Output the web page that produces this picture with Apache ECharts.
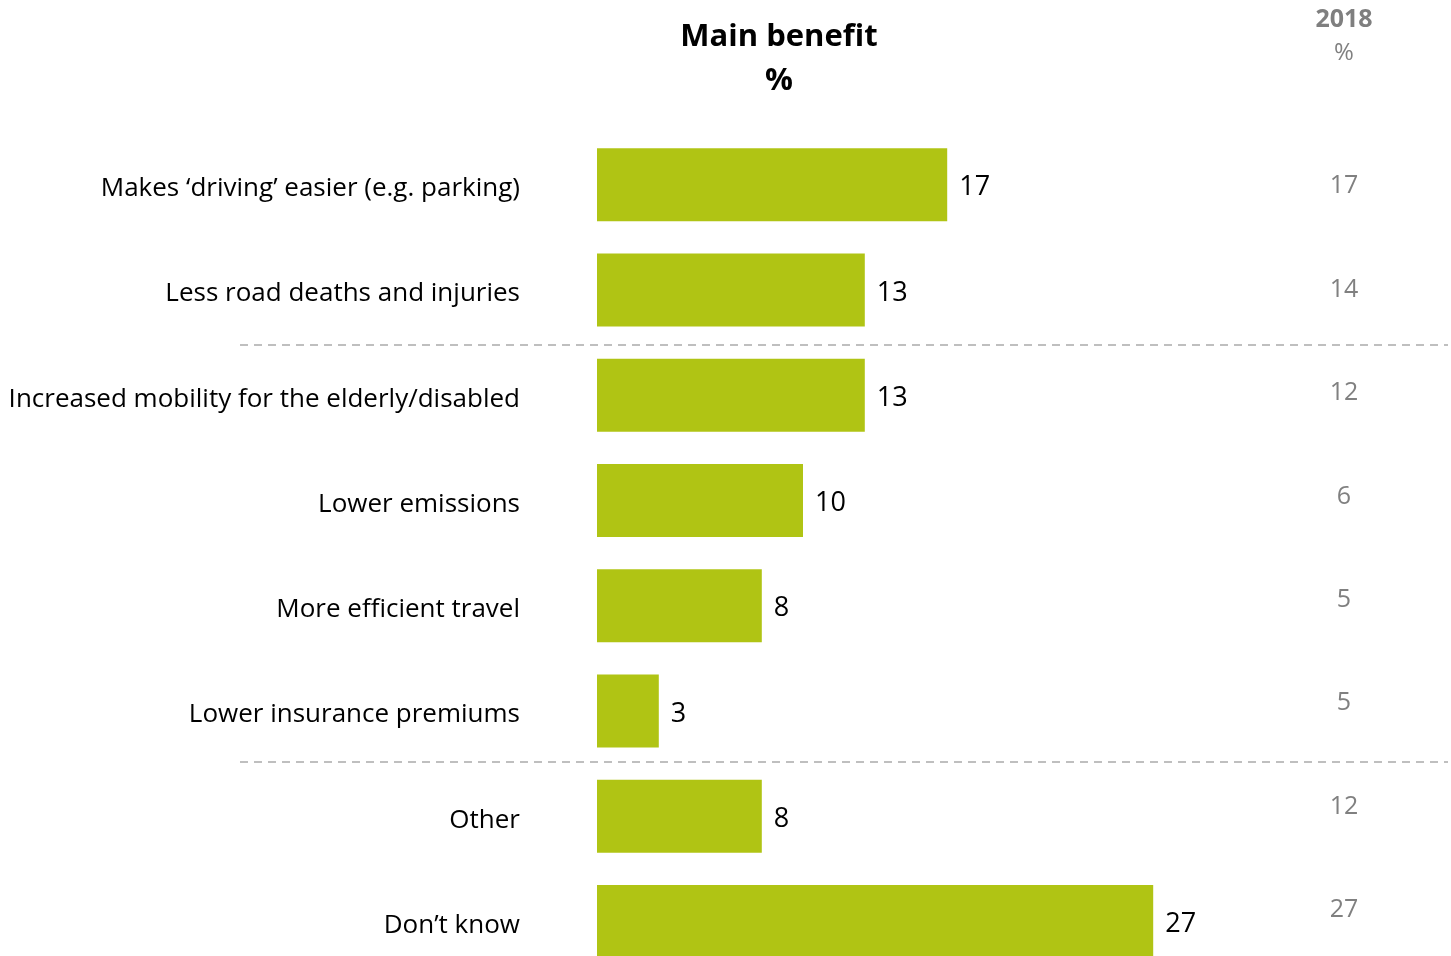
<!DOCTYPE html>
<html>
<head>
<meta charset="utf-8">
<script src="https://cdn.jsdelivr.net/npm/echarts@6/dist/echarts.min.js"></script>
<style>
html,body{margin:0;padding:0;background:#fff;}
#chart{width:1451px;height:956px;}
</style>
</head>
<body>
<div id="chart"></div>
<script>
const categories = [
  "Makes \u2018driving\u2019 easier (e.g. parking)",
  "Less road deaths and injuries",
  "Increased mobility for the elderly/disabled",
  "Lower emissions",
  "More efficient travel",
  "Lower insurance premiums",
  "Other",
  "Don\u2019t know"
];
const mainBenefit = [17, 13, 13, 10, 8, 3, 8, 27];
const values2018 = [17, 14, 12, 6, 5, 5, 12, 27];

const FONT = "'Open Sans', 'Noto Sans', sans-serif";

const chart = echarts.init(document.getElementById('chart'));
chart.setOption({
  backgroundColor: '#ffffff',
  animation: false,
  title: [
    {
      text: 'Main benefit\n%',
      left: 774, top: 10, textAlign: 'center',
      textStyle: {fontFamily: FONT, fontSize: 31, fontWeight: 'bold', color: '#000', lineHeight: 44}
    },
    {
      text: '{b|2018}\n{n|%}',
      left: 1339, top: -2, textAlign: 'center',
      textStyle: {
        fontFamily: FONT, color: '#7f7f7f',
        rich: {
          b: {fontFamily: FONT, fontSize: 25, fontWeight: 'bold', color: '#7f7f7f', lineHeight: 34},
          n: {fontFamily: FONT, fontSize: 24, fontWeight: 'normal', color: '#808080', lineHeight: 32}
        }
      }
    }
  ],
  grid: [
    {left: 597, top: 132, width: 618, height: 842, outerBoundsMode: 'none'},
    {left: 1344, top: 134.6, width: 1, height: 827.2, outerBoundsMode: 'none'}
  ],
  xAxis: [
    {type: 'value', gridIndex: 0, min: 0, max: 30, show: false},
    {type: 'value', gridIndex: 1, min: 0, max: 1, show: false}
  ],
  yAxis: [
    {
      type: 'category', gridIndex: 0, data: categories, inverse: true,
      axisLine: {show: false}, axisTick: {show: false}, splitLine: {show: false},
      axisLabel: {
        margin: 77, fontFamily: FONT, fontSize: 26, color: '#000',
        formatter: v => '{c|' + v + '}',
        rich: {c: {fontFamily: FONT, fontSize: 26, color: '#000', padding: [8, 0, 0, 0]}}
      }
    },
    {
      type: 'category', gridIndex: 1, data: values2018.map(String), inverse: true, position: 'left',
      axisLine: {show: false}, axisTick: {show: false}, splitLine: {show: false},
      axisLabel: {margin: 0, align: 'center', fontFamily: FONT, fontSize: 25, color: '#808080'}
    }
  ],
  series: [{
    type: 'bar',
    xAxisIndex: 0, yAxisIndex: 0,
    data: mainBenefit,
    barWidth: 73,
    itemStyle: {color: '#b0c414'},
    label: {show: true, position: 'right', distance: 12, offset: [0, 3], fontFamily: FONT, fontSize: 27, color: '#000'}
  }],
  graphic: [345, 762].map(y => ({
    type: 'line',
    shape: {x1: 240, y1: y, x2: 1448, y2: y},
    style: {stroke: '#aaaaaa', lineWidth: 1.5, lineDash: [8, 6]}
  }))
});
</script>
</body>
</html>
